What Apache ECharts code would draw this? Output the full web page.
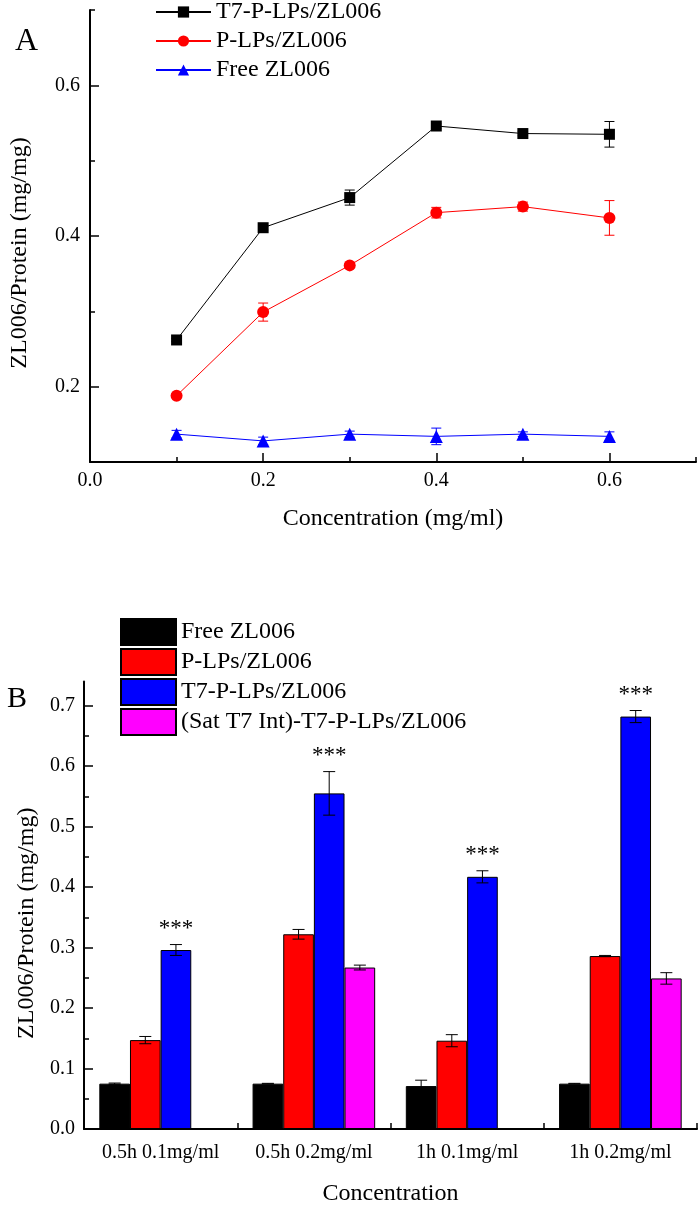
<!DOCTYPE html>
<html><head><meta charset="utf-8">
<script src="https://cdn.jsdelivr.net/npm/echarts@6/dist/echarts.min.js"></script>
<style>html,body{margin:0;padding:0;background:#fff}#c{width:700px;height:1207px}</style>
</head><body><div id="c"></div>
<script>
const FONT = '"Liberation Serif", "Times New Roman", serif';

// ---------- Panel A data ----------
const concA = [0.1, 0.2, 0.3, 0.4, 0.5, 0.6];
const t7A = [0.262, 0.411, 0.451, 0.546, 0.536, 0.535];
const t7AErr = [0.002, 0.003, 0.010, 0.003, 0.003, 0.017];
const plpA = [0.188, 0.299, 0.361, 0.431, 0.439, 0.424];
const plpAErr = [0.002, 0.012, 0.003, 0.007, 0.006, 0.023];
const freeA = [0.137, 0.128, 0.137, 0.134, 0.137, 0.134];
const freeAErr = [0.005, 0.005, 0.004, 0.011, 0.003, 0.006];
const namesA = ['T7-P-LPs/ZL006', 'P-LPs/ZL006', 'Free ZL006'];
const xLabelsA = [0, 0.2, 0.4, 0.6];
const xMinorA = [0.1, 0.3, 0.5, 0.7];
const yLabelsA = [0.2, 0.4, 0.6];
const yMinorA = [0.3, 0.5, 0.7];

// ---------- Panel B data ----------
const categoriesB = ['0.5h 0.1mg/ml', '0.5h 0.2mg/ml', '1h 0.1mg/ml', '1h 0.2mg/ml'];
const freeB = [0.075, 0.075, 0.071, 0.075];
const freeBErr = [0.001, 0.0005, 0.0097, 0.0005];
const plpB = [0.147, 0.322, 0.146, 0.286];
const plpBErr = [0.006, 0.008, 0.010, 0.001];
const t7B = [0.296, 0.555, 0.417, 0.682];
const t7BErr = [0.009, 0.036, 0.010, 0.010];
const satB = [null, 0.267, null, 0.249];
const satBErr = [null, 0.004, null, 0.0095];
const sigB = ['***', '***', '***', '***'];
const namesB = ['Free ZL006', 'P-LPs/ZL006', 'T7-P-LPs/ZL006', '(Sat T7 Int)-T7-P-LPs/ZL006'];
const yLabelsB = [0, 0.1, 0.2, 0.3, 0.4, 0.5, 0.6, 0.7];
const yMinorB = [0.05, 0.15, 0.25, 0.35, 0.45, 0.55, 0.65];

const colorsA = ['#000000', '#ff0000', '#0000ff'];
const symbolsA = ['rect', 'circle', 'triangle'];
const symbolSizesA = [11, 12, 13];
const colorsB = ['#000000', '#ff0000', '#0000ff', '#ff00ff'];

const chart = echarts.init(document.getElementById('c'), null, {renderer: 'canvas'});

const axisLine = {show: true, lineStyle: {color: '#000', width: 2}};
const labelStyle = {fontFamily: FONT, fontSize: 20, color: '#000'};
const nameStyle = {fontFamily: FONT, fontSize: 24, color: '#000'};

function lineErr(color) {
  return function (params, api) {
    const x = api.value(0), y = api.value(1), e = api.value(2);
    const t = api.coord([x, y + e]), b = api.coord([x, y - e]);
    const hw = 5, st = {stroke: color, lineWidth: 1};
    return {type: 'group', children: [
      {type: 'line', shape: {x1: t[0], y1: t[1], x2: b[0], y2: b[1]}, style: st},
      {type: 'line', shape: {x1: t[0] - hw, y1: t[1], x2: t[0] + hw, y2: t[1]}, style: st},
      {type: 'line', shape: {x1: b[0] - hw, y1: b[1], x2: b[0] + hw, y2: b[1]}, style: st}
    ]};
  };
}

function barErr(idx, count, sig) {
  return function (params, api) {
    const c = api.value(0), v = api.value(1), e = api.value(2);
    const band = api.size([1, 0])[0];
    const off = (idx - (count - 1) / 2) * band * 0.2;
    const t = api.coord([c, v + e]), b = api.coord([c, v - e]);
    const x = t[0] + off;
    const hw = 6, st = {stroke: '#000', lineWidth: 1};
    const ch = [
      {type: 'line', shape: {x1: x, y1: t[1], x2: x, y2: b[1]}, style: st},
      {type: 'line', shape: {x1: x - hw, y1: t[1], x2: x + hw, y2: t[1]}, style: st},
      {type: 'line', shape: {x1: x - hw, y1: b[1], x2: x + hw, y2: b[1]}, style: st}
    ];
    if (sig) {
      ch.push({type: 'text', x: x, y: t[1] - 16, style: {text: sig[params.dataIndex], fontFamily: FONT, fontSize: 23, fill: '#000', align: 'center', verticalAlign: 'middle'}});
    }
    return {type: 'group', children: ch};
  };
}

const seriesA = [t7A, plpA, freeA];
const errA = [t7AErr, plpAErr, freeAErr];
const seriesB = [freeB, plpB, t7B, satB];
const errB = [freeBErr, plpBErr, t7BErr, satBErr];

const series = [];
seriesA.forEach((vals, k) => {
  series.push({
    type: 'custom', xAxisIndex: 0, yAxisIndex: 0, z: 2,
    renderItem: lineErr(colorsA[k]),
    encode: {x: 0, y: 1},
    data: concA.map((x, i) => [x, vals[i], errA[k][i]])
  });
  series.push({
    name: namesA[k], type: 'line', xAxisIndex: 0, yAxisIndex: 0, z: 3,
    symbol: symbolsA[k], symbolSize: symbolSizesA[k],
    itemStyle: {color: colorsA[k]}, lineStyle: {color: colorsA[k], width: 1},
    data: concA.map((x, i) => [x, vals[i]])
  });
});
seriesB.forEach((vals, k) => {
  series.push({
    name: 'B:' + namesB[k], type: 'bar', xAxisIndex: 2, yAxisIndex: 2,
    barGap: '0%', barCategoryGap: '20%',
    itemStyle: {color: colorsB[k], borderColor: '#000', borderWidth: 1},
    data: vals.map(v => v == null ? '-' : v)
  });
});
seriesB.forEach((vals, k) => {
  series.push({
    type: 'custom', xAxisIndex: 2, yAxisIndex: 2, z: 4,
    renderItem: barErr(k, 4, k === 2 ? sigB : null),
    encode: {x: 0, y: 1},
    data: vals.map((v, i) => [i, v, errB[k][i]]).filter(d => d[1] != null)
  });
});

chart.setOption({
  animation: false,
  backgroundColor: '#fff',
  grid: [
    {left: 85, top: 10, width: 611, height: 452},
    {left: 84, top: 681.5, width: 613, height: 453.5}
  ],
  xAxis: [
    {gridIndex: 0, type: 'value', min: 0, max: 0.7, interval: 0.1, position: 'bottom',
     axisLine: axisLine, splitLine: {show: false},
     axisTick: {show: true, inside: true, length: 9, lineStyle: {color: '#000', width: 1.5}, customValues: [0.2, 0.4, 0.6]},
     axisLabel: {customValues: xLabelsA, margin: 9, formatter: v => v.toFixed(1), ...labelStyle},
     name: 'Concentration (mg/ml)', nameLocation: 'middle', nameGap: 45, nameTextStyle: nameStyle},
    {gridIndex: 0, type: 'value', min: 0, max: 0.7, interval: 0.1, position: 'bottom',
     axisLine: {show: false}, splitLine: {show: false}, axisLabel: {show: false},
     axisTick: {show: true, inside: true, length: 5, lineStyle: {color: '#000', width: 1.5}, customValues: xMinorA}},
    {gridIndex: 1, type: 'category', data: categoriesB, position: 'bottom',
     axisLine: axisLine,
     axisTick: {show: true, inside: true, length: 6, lineStyle: {color: '#000', width: 1.5}},
     axisLabel: {margin: 14, ...labelStyle},
     name: 'Concentration', nameLocation: 'middle', nameGap: 53, nameTextStyle: nameStyle}
  ],
  yAxis: [
    {gridIndex: 0, type: 'value', min: 0.1, max: 0.7, interval: 0.1, position: 'left',
     axisLine: axisLine, splitLine: {show: false},
     axisTick: {show: true, inside: true, length: 9, lineStyle: {color: '#000', width: 1.5}, customValues: yLabelsA},
     axisLabel: {customValues: yLabelsA, margin: 10, formatter: v => v.toFixed(1), ...labelStyle},
     name: 'ZL006/Protein (mg/mg)', nameLocation: 'middle', nameGap: 58,
     nameTextStyle: {...nameStyle, padding: [0, 34, 0, 0]}},
    {gridIndex: 0, type: 'value', min: 0.1, max: 0.7, interval: 0.1, position: 'left',
     axisLine: {show: false}, splitLine: {show: false}, axisLabel: {show: false},
     axisTick: {show: true, inside: true, length: 5, lineStyle: {color: '#000', width: 1.5}, customValues: yMinorA}},
    {gridIndex: 1, type: 'value', min: 0, max: 0.74, interval: 0.1, position: 'left',
     axisLine: axisLine, splitLine: {show: false},
     axisTick: {show: true, inside: true, length: 9, lineStyle: {color: '#000', width: 1.5}, customValues: yLabelsB},
     axisLabel: {customValues: yLabelsB, margin: 9, formatter: v => v.toFixed(1), ...labelStyle},
     name: 'ZL006/Protein (mg/mg)', nameLocation: 'middle', nameGap: 43,
     nameTextStyle: {...nameStyle, padding: [0, 36, 0, 0]}},
    {gridIndex: 1, type: 'value', min: 0, max: 0.74, interval: 0.1, position: 'left',
     axisLine: {show: false}, splitLine: {show: false}, axisLabel: {show: false},
     axisTick: {show: true, inside: true, length: 5, lineStyle: {color: '#000', width: 1.5}, customValues: yMinorB}}
  ],
  legend: [
    {left: 155, top: 0, orient: 'vertical', padding: 0, itemGap: 5, itemWidth: 55, itemHeight: 14,
     selectedMode: false, data: namesA, textStyle: {fontFamily: FONT, fontSize: 24, color: '#000'}},
    {left: 120, top: 618, orient: 'vertical', padding: 0, itemGap: 2, itemWidth: 55, itemHeight: 26,
     icon: 'rect', selectedMode: false, data: namesB.map(n => 'B:' + n),
     formatter: n => n.slice(2), textStyle: {fontFamily: FONT, fontSize: 24, color: '#000'}}
  ],
  graphic: [
    {type: 'text', left: 15, top: 26, style: {text: 'A', fontFamily: FONT, fontSize: 32, fill: '#000'}},
    {type: 'text', left: 7, top: 684, style: {text: 'B', fontFamily: FONT, fontSize: 30, fill: '#000'}}
  ],
  series: series
});
</script></body></html>
